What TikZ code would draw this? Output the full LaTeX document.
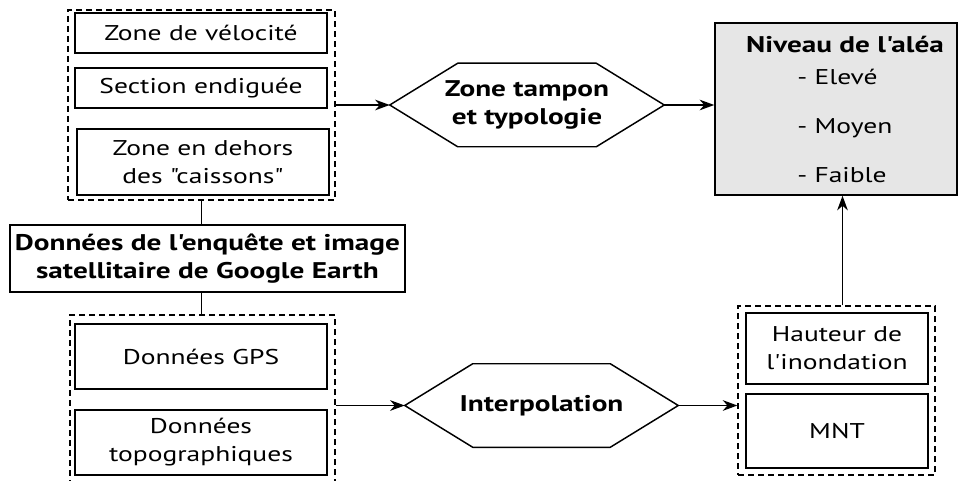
\documentclass[tikz,border=0pt]{standalone}
\usepackage{fontspec}
\newfontfamily\myriad{PT Sans}[FakeStretch=1.29]
\usetikzlibrary{arrows.meta}
\definecolor{aleafill}{RGB}{230,230,230}

\begin{document}
\begin{tikzpicture}[x=0.75pt,y=0.75pt,yscale=-1,xscale=1,
		box/.style={draw, line width=1.1pt, align=center, inner sep=0pt, font=\myriad\fontsize{16}{21}\selectfont},
		grp/.style={draw, dash pattern=on 4.5pt off 3pt, line width=0.9pt, inner sep=0pt},
		hexa/.style={inner sep=0pt, align=center, font=\myriad\fontsize{17}{21}\selectfont\bfseries},
		item/.style={anchor=base west, inner sep=0pt, font=\myriad\fontsize{16}{21}\selectfont},
		arr/.style={-{Stealth[length=11pt,width=8pt,inset=3.5pt]}, line width=1pt}]
				\useasboundingbox (0,0) rectangle (959,481);
				\clip (0,0) rectangle (959,481);
				\node [grp, minimum width=200.25pt, minimum height=142.5pt] (topgrp) at (201.5,105) {};
				\node [grp, minimum width=198.75pt, minimum height=131.25pt] (botgrp) at (202.5,402.5) {};
				\node [grp, minimum width=147.75pt, minimum height=126.75pt] (rightgrp) at (836.5,390.5) {};
				\node [box, minimum width=189pt, minimum height=30pt] (velo) at (201,33) {Zone de vélocité};
				\node [box, minimum width=189pt, minimum height=30pt] (endig) at (201,88) {Section endiguée};
				\node [box, minimum width=189pt, minimum height=49.5pt] (dehors) at (203,162) {Zone en dehors\\des "caissons"};
				\node [box, minimum width=296.25pt, minimum height=50.25pt, font=\myriad\fontsize{17}{21}\selectfont\bfseries] (source) at (207.5,258.5) {Données de l'enquête et image\\satellitaire de Google Earth};
				\node [box, minimum width=189pt, minimum height=48.75pt] (gps) at (201,356.5) {Données GPS};
				\node [box, minimum width=189pt, minimum height=48.75pt] (topo) at (201,442.5) {Données\\topographiques};
				\node [hexa, minimum width=205.5pt, minimum height=62.25pt] (tampon) at (527,105) {Zone tampon\\et typologie};
				\node [hexa, minimum width=204.75pt, minimum height=62.25pt] (interp) at (541.5,405.5) {Interpolation};
				\node [box, fill=aleafill, minimum width=181.5pt, minimum height=129pt] (alea) at (836,109) {};
				\node [box, minimum width=136.5pt, minimum height=53.25pt] (hauteur) at (837,348.5) {Hauteur de\\l'inondation};
				\node [box, minimum width=136.5pt, minimum height=55.5pt] (mnt) at (837,431) {MNT};
				\node [item, anchor=base, font=\myriad\fontsize{17}{21}\selectfont\bfseries] (titre) at (845,53) {Niveau de l'aléa};
				\node [item] (eleve) at (797,85) {- Elevé};
				\node [item] (moyen) at (797,133) {- Moyen};
				\node [item] (faible) at (797,182) {- Faible};
				\draw [line width=1.1pt] (tampon.west) -- ([xshift=51pt]tampon.north west) -- ([xshift=-51pt]tampon.north east) -- (tampon.east) -- ([xshift=-51pt]tampon.south east) -- ([xshift=51pt]tampon.south west) -- cycle;
				\draw [line width=1.1pt] (interp.west) -- ([xshift=51pt]interp.north west) -- ([xshift=-51pt]interp.north east) -- (interp.east) -- ([xshift=-51pt]interp.south east) -- ([xshift=51pt]interp.south west) -- cycle;
				\draw [line width=1pt] (topgrp.south) -- (topgrp.south |- source.north);
				\draw [line width=1pt] (topgrp.south |- source.south) -- (topgrp.south |- botgrp.north);
				\draw [arr] (topgrp.east) -- (tampon.west);
				\draw [arr] (tampon.east) -- (tampon.east -| alea.west);
				\draw [arr] (botgrp.east |- interp.west) -- (interp.west);
				\draw [arr] (interp.east) -- (interp.east -| rightgrp.west);
				\draw [arr] ([xshift=4.5pt]rightgrp.north) -- ([xshift=4.5pt]rightgrp.north |- alea.south);
\end{tikzpicture}
\end{document}
